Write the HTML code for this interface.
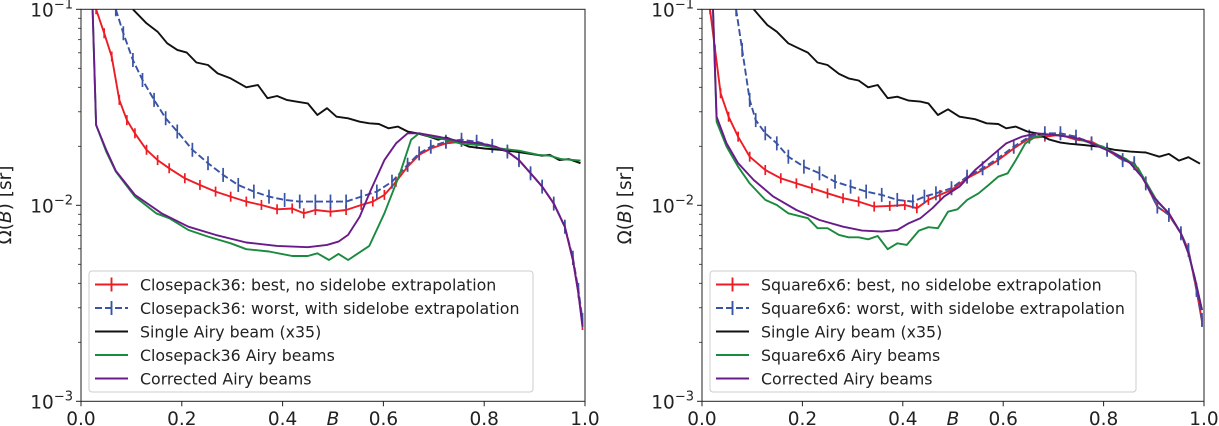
<!DOCTYPE html>
<html><head><meta charset="utf-8"><style>
body{margin:0;background:#fff;}
svg{display:block;font-family:"DejaVu Sans","Liberation Sans",sans-serif;}
</style></head><body>
<svg id="fig" width="1219" height="426" viewBox="0 0 1219 426" xmlns="http://www.w3.org/2000/svg"></svg>
<script>
// ---------- Left panel data (Closepack36) ----------
const L_blackB=[0.103,0.130,0.152,0.171,0.191,0.210,0.229,0.252,0.271,0.297,0.328,0.351,0.370,0.389,0.408,0.427,0.450,0.469,0.488,0.507,0.530,0.553,0.572,0.591,0.610,0.629,0.648,0.667,0.686,0.709,0.724,0.747,0.770,0.800,0.831,0.861,0.892,0.915,0.930,0.949,0.968,0.991];
const L_blackV=[0.1,0.0848,0.0769,0.0671,0.0621,0.0601,0.0535,0.0520,0.0471,0.0444,0.0400,0.0411,0.0352,0.0361,0.0345,0.0338,0.0331,0.0289,0.0313,0.0283,0.0278,0.0267,0.0262,0.0260,0.0247,0.0252,0.0238,0.0233,0.0226,0.0216,0.0222,0.0211,0.0199,0.0195,0.0192,0.0188,0.0183,0.0179,0.0181,0.0170,0.0172,0.0164];
const L_greenB=[0.023,0.030,0.050,0.069,0.107,0.149,0.175,0.213,0.252,0.297,0.328,0.373,0.419,0.450,0.469,0.492,0.511,0.530,0.572,0.602,0.633,0.655,0.671,0.694,0.724,0.755,0.793,0.831,0.869,0.907,0.930,0.953,0.991];
const L_greenV=[0.1,0.0257,0.0188,0.01486,0.01107,0.0091,0.00859,0.00748,0.00692,0.0064,0.00597,0.00581,0.00551,0.00551,0.00569,0.00526,0.00565,0.00526,0.00621,0.0091,0.01456,0.0216,0.0233,0.0224,0.0216,0.0206,0.0203,0.0195,0.0190,0.0181,0.0179,0.0172,0.0169];
const L_purpleB=[0.023,0.030,0.050,0.069,0.107,0.160,0.213,0.267,0.328,0.389,0.450,0.488,0.511,0.530,0.553,0.575,0.602,0.625,0.648,0.671,0.709,0.755,0.793,0.823,0.846,0.869,0.892,0.915,0.938,0.960,0.976,0.987,0.995];
const L_purpleV=[0.1,0.0257,0.0192,0.0150,0.0113,0.0091,0.00778,0.00706,0.00646,0.00621,0.00611,0.00628,0.00653,0.00706,0.00875,0.01197,0.0170,0.0207,0.0233,0.0233,0.0224,0.0211,0.0207,0.0199,0.0188,0.0170,0.01456,0.01245,0.0102,0.00778,0.00526,0.00356,0.0024];
const L_redB=[0.030,0.046,0.061,0.076,0.091,0.107,0.130,0.152,0.175,0.206,0.236,0.267,0.297,0.328,0.358,0.389,0.419,0.442,0.465,0.495,0.526,0.556,0.579,0.602,0.625,0.648,0.671,0.694,0.724,0.755,0.785,0.816,0.846,0.869,0.892,0.915,0.938,0.960,0.976,0.987,0.995];
const L_redV=[0.1,0.0755,0.0574,0.0345,0.0272,0.0233,0.0192,0.0170,0.01545,0.01374,0.0127,0.01175,0.01107,0.01045,0.01004,0.00954,0.00963,0.0091,0.00946,0.00928,0.00946,0.01004,0.01045,0.0113,0.0132,0.01574,0.0181,0.0195,0.0207,0.0211,0.0207,0.0199,0.0188,0.0170,0.01456,0.01245,0.0102,0.00778,0.00526,0.00356,0.00245];
const L_blueB=[0.069,0.084,0.103,0.122,0.145,0.168,0.191,0.221,0.252,0.282,0.312,0.343,0.373,0.404,0.434,0.465,0.495,0.526,0.556,0.587,0.617,0.648,0.671,0.694,0.724,0.755,0.785,0.816,0.846,0.869,0.892,0.915,0.938,0.960,0.976,0.987,0.995];
const L_blueV=[0.1,0.0755,0.0551,0.0436,0.0345,0.0278,0.0238,0.0192,0.0164,0.01429,0.0127,0.01175,0.01107,0.01065,0.01045,0.01045,0.01045,0.01045,0.01107,0.01175,0.0132,0.0161,0.0184,0.0199,0.0211,0.0216,0.0211,0.0201,0.0188,0.0170,0.01456,0.01245,0.0102,0.00778,0.00540,0.00370,0.0026];

// ---------- Right panel data (Square6x6) ----------
const R_blackB=[0.103,0.130,0.149,0.172,0.192,0.211,0.230,0.250,0.273,0.292,0.312,0.331,0.350,0.370,0.389,0.412,0.435,0.451,0.470,0.490,0.513,0.544,0.567,0.590,0.606,0.625,0.648,0.667,0.691,0.714,0.733,0.760,0.791,0.822,0.853,0.884,0.911,0.930,0.950,0.969,0.992];
const R_blackV=[0.1,0.0832,0.0769,0.0671,0.0633,0.0601,0.0535,0.0520,0.0468,0.0444,0.0433,0.0400,0.0411,0.0352,0.0358,0.0342,0.0338,0.0331,0.0289,0.0309,0.0283,0.0275,0.0262,0.0260,0.0247,0.0252,0.0238,0.0233,0.0217,0.0209,0.0206,0.0203,0.0199,0.0192,0.0188,0.0186,0.0177,0.0183,0.0169,0.0176,0.0163];
const R_greenB=[0.022,0.029,0.049,0.072,0.095,0.126,0.149,0.172,0.211,0.230,0.250,0.273,0.292,0.312,0.331,0.350,0.370,0.389,0.408,0.432,0.451,0.470,0.490,0.509,0.528,0.551,0.571,0.590,0.609,0.625,0.644,0.664,0.683,0.706,0.745,0.776,0.799,0.822,0.845,0.869,0.884,0.907,0.930,0.954,0.969,0.981,0.996];
const R_greenV=[0.1,0.0267,0.0199,0.01574,0.01294,0.01065,0.01004,0.0091,0.00859,0.00764,0.00764,0.00706,0.00687,0.00687,0.00671,0.00697,0.00597,0.0064,0.00628,0.00743,0.00773,0.00764,0.00928,0.00954,0.01065,0.01151,0.0127,0.0140,0.01456,0.0170,0.0207,0.0224,0.0229,0.0229,0.0220,0.0207,0.0199,0.0184,0.0172,0.01545,0.0132,0.01045,0.0091,0.0072,0.00569,0.00432,0.00292];
const R_purpleB=[0.022,0.029,0.049,0.072,0.103,0.142,0.188,0.234,0.281,0.319,0.358,0.389,0.412,0.435,0.459,0.482,0.513,0.544,0.575,0.606,0.637,0.667,0.698,0.729,0.760,0.791,0.822,0.853,0.876,0.899,0.930,0.954,0.969,0.981,0.996];
const R_purpleV=[0.1,0.0283,0.0207,0.0164,0.01346,0.01107,0.00946,0.00841,0.00778,0.00743,0.00734,0.00748,0.0081,0.00859,0.00966,0.01107,0.01245,0.01514,0.0177,0.0207,0.0224,0.0233,0.0229,0.0224,0.0216,0.0199,0.0184,0.0164,0.0140,0.01107,0.0091,0.0072,0.00569,0.00432,0.00292];
const R_redB=[0.016,0.026,0.037,0.053,0.072,0.095,0.126,0.157,0.188,0.219,0.250,0.281,0.312,0.343,0.374,0.404,0.428,0.451,0.474,0.497,0.528,0.559,0.590,0.621,0.652,0.683,0.714,0.745,0.776,0.807,0.838,0.861,0.884,0.907,0.930,0.954,0.969,0.985,0.996];
const R_redV=[0.1,0.0621,0.0373,0.0283,0.0224,0.0177,0.01514,0.01374,0.01294,0.01222,0.01151,0.01087,0.01045,0.00985,0.00993,0.01004,0.00966,0.01065,0.0113,0.01197,0.01374,0.01514,0.0170,0.0195,0.0220,0.0224,0.0229,0.0216,0.0211,0.0192,0.0170,0.0164,0.01294,0.00985,0.00893,0.0072,0.00592,0.0037,0.00255];
const R_blueB=[0.068,0.080,0.095,0.107,0.126,0.149,0.172,0.203,0.234,0.265,0.296,0.327,0.358,0.389,0.420,0.443,0.466,0.497,0.528,0.559,0.590,0.621,0.652,0.683,0.714,0.745,0.776,0.807,0.838,0.861,0.884,0.907,0.930,0.954,0.969,0.985,0.996];
const R_blueV=[0.1,0.0621,0.0345,0.0272,0.0233,0.0207,0.0177,0.01574,0.01456,0.0132,0.01245,0.01175,0.0113,0.01065,0.01045,0.01107,0.01151,0.01222,0.0140,0.01545,0.0174,0.0199,0.0224,0.0233,0.0233,0.0224,0.0207,0.0192,0.0170,0.0164,0.01294,0.00985,0.00893,0.0072,0.00592,0.0037,0.0026];

const xTicks=[0,0.2,0.4,0.6,0.8,1.0];
const xTickLabels=["0.0","0.2","0.4","0.6","0.8","1.0"];
const yTicks=[-1,-2,-3];
const legendLeft=["Closepack36: best, no sidelobe extrapolation","Closepack36: worst, with sidelobe extrapolation","Single Airy beam (x35)","Closepack36 Airy beams","Corrected Airy beams"];
const legendRight=["Square6x6: best, no sidelobe extrapolation","Square6x6: worst, with sidelobe extrapolation","Single Airy beam (x35)","Square6x6 Airy beams","Corrected Airy beams"];

const NS="http://www.w3.org/2000/svg";
const svg=document.getElementById('fig');
function mk(tag,attrs,parent){const e=document.createElementNS(NS,tag);for(const k in attrs)e.setAttribute(k,attrs[k]);(parent||svg).appendChild(e);return e;}
const RED="#ee1c24",BLUE="#3a53a4",BLACK="#111",GREEN="#1a8a3e",PURPLE="#6a1b8a";

function panel(id,x0,x1,series,legend,legX,legW,ylabX){
  const yT=9.3,dec=196,yB=yT+2*dec;
  const sx=b=>x0+b*(x1-x0);
  const sy=v=>yT+(-1-Math.log10(v))*dec;
  const g=mk('g',{});
  
  
  const cp=mk('clipPath',{id:id+'clip'},g);
  mk('rect',{x:x0,y:yT,width:x1-x0,height:yB-yT},cp);
  const plot=mk('g',{'clip-path':'url(#'+id+'clip)'},g);
  
  
  series.forEach(s=>{
    const pts=s.b.map((b,i)=>sx(b).toFixed(1)+','+sy(s.v[i]).toFixed(1)).join(' ');
    const pl=mk('polyline',{points:pts,fill:'none',stroke:s.c,'stroke-width':1.9,'stroke-linejoin':'round','stroke-dasharray':s.dash||'none'},plot);
    
    
    if(s.err){
      s.b.forEach((b,i)=>{
        const x=sx(b),y=sy(s.v[i]);
        const eb=mk('line',{x1:x,x2:x,y1:y-s.err,y2:y+s.err,stroke:s.c,'stroke-width':1.7},plot);
        
        
      });
    }
  });
  const fr=mk('rect',{x:x0,y:yT,width:x1-x0,height:yB-yT,fill:'none',stroke:'#222','stroke-width':1},g);
  
  
  xTicks.forEach((t,i)=>{
    const x=sx(t);
    mk('line',{x1:x,x2:x,y1:yB,y2:yB+5,stroke:'#222','stroke-width':1},g);
    const tx=mk('text',{x:x,y:425,'text-anchor':'middle','font-size':18.5,fill:'#222'},g);
    tx.textContent=xTickLabels[i];
    
    
  });
  yTicks.forEach(e=>{
    const y=sy(Math.pow(10,e));
    mk('line',{x1:x0-5,x2:x0,y1:y,y2:y,stroke:'#222','stroke-width':1},g);
    const tx=mk('text',{x:x0-8,y:y+7,'text-anchor':'end','font-size':18.5,fill:'#222'},g);
    tx.innerHTML='10<tspan dy="-8" font-size="13">\u2212'+(-e)+'</tspan>';
    
    
  });
  for(let d=-3;d<-1;d++)for(let m=2;m<10;m++){
    const y=sy(m*Math.pow(10,d));
    mk('line',{x1:x0-3,x2:x0,y1:y,y2:y,stroke:'#222','stroke-width':0.8},g);
  }
  const xl=mk('text',{x:(x0+x1)/2,y:425,'text-anchor':'middle','font-size':18.5,'font-style':'italic',fill:'#222'},g);
  xl.textContent='B';
  
  
  const yl=mk('text',{x:ylabX,y:205,'text-anchor':'middle','font-size':18.5,fill:'#222',transform:'rotate(-90 '+ylabX+' 205)'},g);
  yl.innerHTML='\u03A9(<tspan font-style="italic">B</tspan>) [sr]';
  
  
  const lg=mk('g',{},g);
  
  
  mk('rect',{x:legX,y:271,width:legW,height:121,rx:3,fill:'#fff','fill-opacity':0.85,stroke:'#ccc','stroke-width':1},lg);
  series.forEach((s,i)=>{
    const y=284.5+i*23.5;
    const e=mk('g',{},lg);
    
    
    mk('line',{x1:legX+6,x2:legX+39,y1:y,y2:y,stroke:s.c,'stroke-width':1.9,'stroke-dasharray':s.dash||'none'},e);
    if(s.err)mk('line',{x1:legX+22.5,x2:legX+22.5,y1:y-7,y2:y+7,stroke:s.c,'stroke-width':1.9},e);
    const t=mk('text',{x:legX+51,y:y+6,'font-size':15.8,fill:'#222'},e);
    t.textContent=legend[i];
  });
}
panel('left',81,585,[
  {name:'best-line',b:L_redB,v:L_redV,c:RED,err:5},
  {name:'worst-line',b:L_blueB,v:L_blueV,c:BLUE,err:7,dash:'7,3'},
  {name:'single-airy-line',b:L_blackB,v:L_blackV,c:BLACK},
  {name:'array-airy-line',b:L_greenB,v:L_greenV,c:GREEN},
  {name:'corrected-airy-line',b:L_purpleB,v:L_purpleV,c:PURPLE}
],legendLeft,89,444,11);
panel('right',702,1204,[
  {name:'best-line',b:R_redB,v:R_redV,c:RED,err:5},
  {name:'worst-line',b:R_blueB,v:R_blueV,c:BLUE,err:7,dash:'7,3'},
  {name:'single-airy-line',b:R_blackB,v:R_blackV,c:BLACK},
  {name:'array-airy-line',b:R_greenB,v:R_greenV,c:GREEN},
  {name:'corrected-airy-line',b:R_purpleB,v:R_purpleV,c:PURPLE}
],legendRight,710,426,631);
</script>
</body></html>
